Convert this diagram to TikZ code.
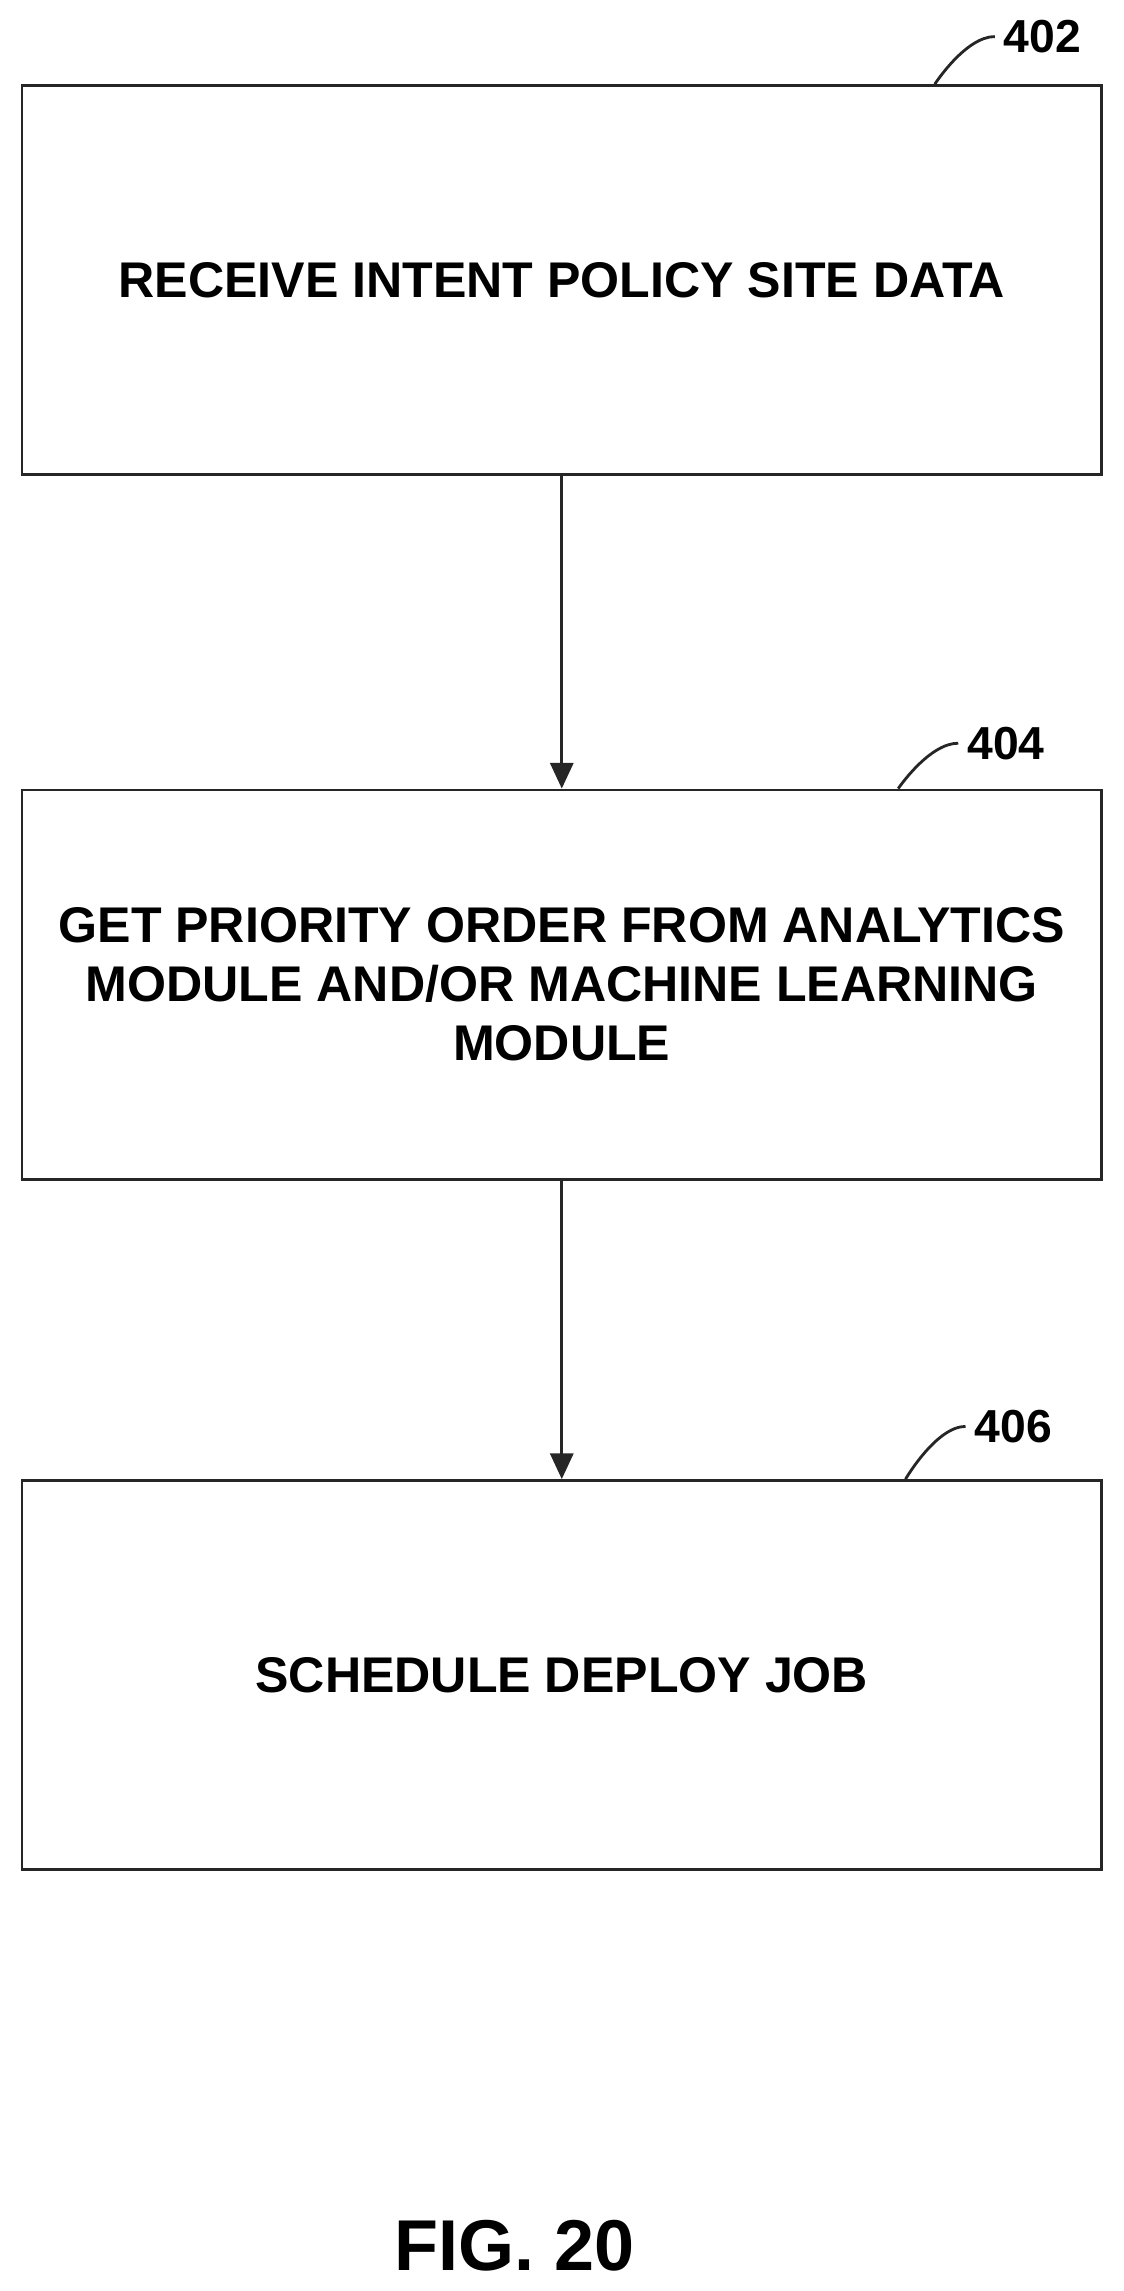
\documentclass[tikz,border=0pt]{standalone}
\usepackage{fontspec}
\setmainfont{Liberation Sans}
\usetikzlibrary{positioning,arrows.meta}
\tikzset{
    flowstep/.style = {
        draw=black!85,
        shape=rectangle,
        minimum height=5.32cm,
        minimum width=14.76cm,
        line width=1.1pt,
        align=center,
        font=\bfseries\fontsize{19.5}{23}\selectfont
    },
    refnum/.style = {
        font=\bfseries\fontsize{18}{20}\selectfont,
        anchor=west
    },
    >={Triangle[length=10pt,width=9pt]},
}
\begin{document}
\begin{tikzpicture}
    \useasboundingbox (0,0) rectangle (15.36,-31.32);
    \node[flowstep] (receive) at (7.68,-3.83) {RECEIVE INTENT POLICY SITE DATA};
    \node[flowstep] (priority) at (7.68,-13.46) {GET PRIORITY ORDER FROM ANALYTICS\\MODULE AND/OR MACHINE LEARNING\\MODULE};
    \node[flowstep] (schedule) at (7.68,-22.9) {SCHEDULE DEPLOY JOB};

    \node[refnum] (n402) at (13.6,-0.5) {402};
    \node[refnum] (n404) at (13.1,-10.16) {404};
    \node[refnum] (n406) at (13.2,-19.5) {406};

    \draw[line width=1.1pt, black!85] (receive.north east) ++(-2.3,0) .. controls +(0,0) and +(-0.4,0) .. (n402.west);
    \draw[line width=1.1pt, black!85] (priority.north east) ++(-2.8,0) .. controls +(0,0) and +(-0.4,0) .. (n404.west);
    \draw[line width=1.1pt, black!85] (schedule.north east) ++(-2.7,0) .. controls +(0,0) and +(-0.4,0) .. (n406.west);

    \draw[->, line width=1.1pt, black!85] (receive) -- (priority);
    \draw[->, line width=1.1pt, black!85] (priority) -- (schedule);

    \node[font=\bfseries\fontsize{28}{32}\selectfont] (fig) at (7.04,-30.7) {FIG. 20};
\end{tikzpicture}
\end{document}
